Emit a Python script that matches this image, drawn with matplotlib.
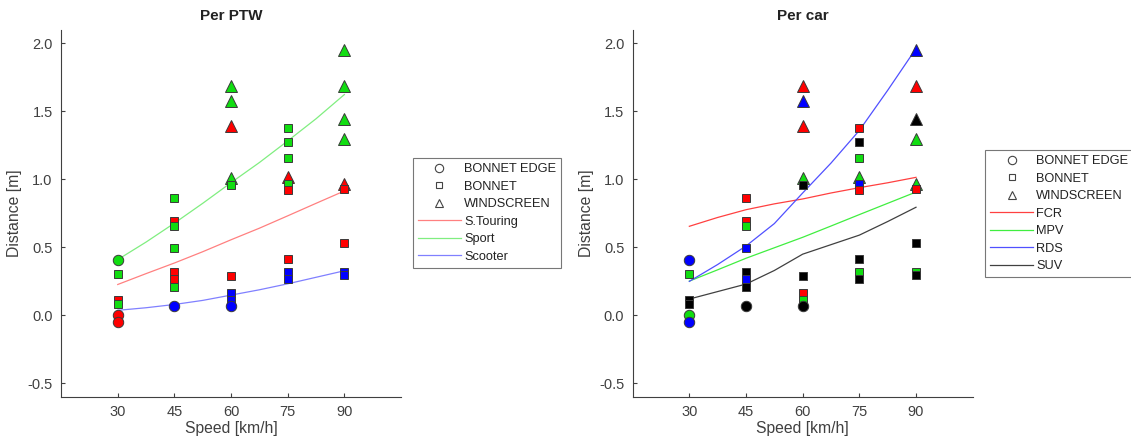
import numpy as np
import matplotlib.pyplot as plt
from matplotlib.lines import Line2D
from matplotlib import rc

rc('font', family=['Liberation Sans', 'DejaVu Sans'], size=10)

# impact measurements: speed, throw distance, impact location,
# PTW type and car type of each test
speed = [30, 30, 30, 30, 30, 30,
         45, 45, 45, 45, 45, 45, 45, 45,
         60, 60, 60, 60, 60, 60, 60, 60, 60,
         75, 75, 75, 75, 75, 75, 75, 75, 75,
         90, 90, 90, 90, 90, 90, 90, 90, 90]
distance = [0.41, 0.305, 0.112, 0.085, 0.0, -0.05,
            0.861, 0.695, 0.66, 0.495, 0.317, 0.268, 0.207, 0.068,
            1.688, 1.58, 1.39, 1.007, 0.958, 0.288, 0.166, 0.112, 0.066,
            1.38, 1.275, 1.154, 1.019, 0.966, 0.922, 0.415, 0.317, 0.268,
            1.951, 1.69, 1.441, 1.30, 0.966, 0.927, 0.532, 0.317, 0.30]
location = ['edge', 'bonnet', 'bonnet', 'bonnet', 'edge', 'edge',
            'bonnet', 'bonnet', 'bonnet', 'bonnet', 'bonnet', 'bonnet', 'bonnet', 'edge',
            'wind', 'wind', 'wind', 'wind', 'bonnet', 'bonnet', 'bonnet', 'bonnet', 'edge',
            'bonnet', 'bonnet', 'bonnet', 'wind', 'bonnet', 'bonnet', 'bonnet', 'bonnet', 'bonnet',
            'wind', 'wind', 'wind', 'wind', 'wind', 'bonnet', 'bonnet', 'bonnet', 'bonnet']
ptw = ['Sport', 'Sport', 'S.Touring', 'Sport', 'S.Touring', 'S.Touring',
       'Sport', 'S.Touring', 'Sport', 'Sport', 'S.Touring', 'S.Touring', 'Sport', 'Scooter',
       'Sport', 'Sport', 'S.Touring', 'Sport', 'Sport', 'S.Touring', 'Scooter', 'Scooter', 'Scooter',
       'Sport', 'Sport', 'Sport', 'S.Touring', 'Sport', 'S.Touring', 'S.Touring', 'Scooter', 'Scooter',
       'Sport', 'Sport', 'Sport', 'Sport', 'S.Touring', 'S.Touring', 'S.Touring', 'Scooter', 'Scooter']
car = ['RDS', 'MPV', 'SUV', 'SUV', 'MPV', 'RDS',
       'FCR', 'FCR', 'MPV', 'RDS', 'SUV', 'RDS', 'SUV', 'SUV',
       'FCR', 'RDS', 'FCR', 'MPV', 'SUV', 'SUV', 'FCR', 'MPV', 'SUV',
       'FCR', 'SUV', 'MPV', 'MPV', 'RDS', 'FCR', 'SUV', 'MPV', 'SUV',
       'RDS', 'FCR', 'SUV', 'MPV', 'MPV', 'FCR', 'SUV', 'MPV', 'SUV']

# fitted trends, sampled every 7.5 km/h
fit_speed = [30, 37.5, 45, 52.5, 60, 67.5, 75, 82.5, 90]
fit_ptw = {
    'S.Touring': [0.227, 0.307, 0.385, 0.468, 0.556, 0.641, 0.732, 0.824, 0.915],
    'Sport':     [0.41, 0.539, 0.678, 0.824, 0.976, 1.124, 1.283, 1.446, 1.624],
    'Scooter':   [0.037, 0.056, 0.080, 0.110, 0.149, 0.188, 0.232, 0.280, 0.328],
}
fit_car = {
    'FCR': [0.655, 0.72, 0.777, 0.82, 0.856, 0.90, 0.939, 0.975, 1.015],
    'MPV': [0.252, 0.335, 0.42, 0.497, 0.574, 0.657, 0.741, 0.824, 0.907],
    'RDS': [0.25, 0.374, 0.51, 0.675, 0.90, 1.12, 1.36, 1.655, 1.962],
    'SUV': [0.12, 0.175, 0.23, 0.33, 0.45, 0.52, 0.59, 0.69, 0.795],
}

markers = {'edge': 'o', 'bonnet': 's', 'wind': '^'}
msize = {'edge': 7.5, 'bonnet': 6, 'wind': 8}
ptw_col = {'S.Touring': '#ff0000', 'Sport': '#11dd11', 'Scooter': '#0000ff'}
ptw_line = {'S.Touring': '#ff8080', 'Sport': '#80ee80', 'Scooter': '#8080ff'}
car_col = {'FCR': '#ff0000', 'MPV': '#11dd11', 'RDS': '#0000ff', 'SUV': '#000000'}
car_line = {'FCR': '#ff4040', 'MPV': '#40ee40', 'RDS': '#5050ff', 'SUV': '#404040'}

axcol = '#404040'

fig = plt.figure(figsize=(11.31, 4.45), dpi=100)
ax1 = fig.add_axes([0.054, 0.108, 0.3006, 0.825])
ax2 = fig.add_axes([0.5594, 0.108, 0.3006, 0.825])


def style(ax, title):
    ax.set_xlim(15, 105)
    ax.set_ylim(-0.6, 2.1)
    ax.set_xticks([30, 45, 60, 75, 90])
    ax.set_yticks([-0.5, 0, 0.5, 1.0, 1.5, 2.0])
    ax.set_yticklabels(['-0.5', '0.0', '0.5', '1.0', '1.5', '2.0'])
    for s in ['top', 'right']:
        ax.spines[s].set_visible(False)
    for s in ['left', 'bottom']:
        ax.spines[s].set_color(axcol)
        ax.spines[s].set_linewidth(0.8)
    ax.tick_params(direction='in', length=3, colors=axcol, labelsize=10.5, pad=6)
    ax.set_xlabel('Speed [km/h]', color=axcol, fontsize=11.3, labelpad=1)
    ax.set_ylabel('Distance [m]', color=axcol, fontsize=11.3, labelpad=4)
    ax.set_title(title, fontsize=11, fontweight='bold', color='#222222', pad=7)


def draw(ax, groups, colors, fits, linecols):
    for name in fits:
        ax.plot(fit_speed, fits[name], color=linecols[name], lw=0.9, zorder=2)
    for i in range(len(speed)):
        ax.plot(speed[i], distance[i], marker=markers[location[i]],
                ms=msize[location[i]], mfc=colors[groups[i]], mec='#3a3a3a',
                mew=0.7, ls='none', zorder=3)


def legend(ax, fits, linecols, x, y):
    h = [Line2D([], [], ls='none', marker='o', mfc='none', mec='#444444', ms=6, mew=0.8),
         Line2D([], [], ls='none', marker='s', mfc='none', mec='#444444', ms=5, mew=0.8),
         Line2D([], [], ls='none', marker='^', mfc='none', mec='#444444', ms=6, mew=0.8)]
    labels = ['BONNET EDGE', 'BONNET', 'WINDSCREEN']
    for name in fits:
        h.append(Line2D([], [], color=linecols[name], lw=0.9))
        labels.append(name)
    lg = ax.legend(h, labels, loc='upper left', bbox_to_anchor=(x, y),
                   bbox_transform=fig.transFigure, fontsize=9.2, frameon=True,
                   fancybox=False, edgecolor='#555555', handlelength=3.36,
                   handletextpad=0.25, labelspacing=0.43, borderpad=0.4,
                   borderaxespad=0)
    lg.get_frame().set_linewidth(0.8)
    for t in lg.get_texts():
        t.set_color('#222222')


style(ax1, 'Per PTW')
draw(ax1, ptw, ptw_col, fit_ptw, ptw_line)
legend(ax1, fit_ptw, ptw_line, 0.365, 0.645)

style(ax2, 'Per car')
draw(ax2, car, car_col, fit_car, car_line)
legend(ax2, fit_car, car_line, 0.871, 0.663)

fig.savefig('out.png', dpi=100)
